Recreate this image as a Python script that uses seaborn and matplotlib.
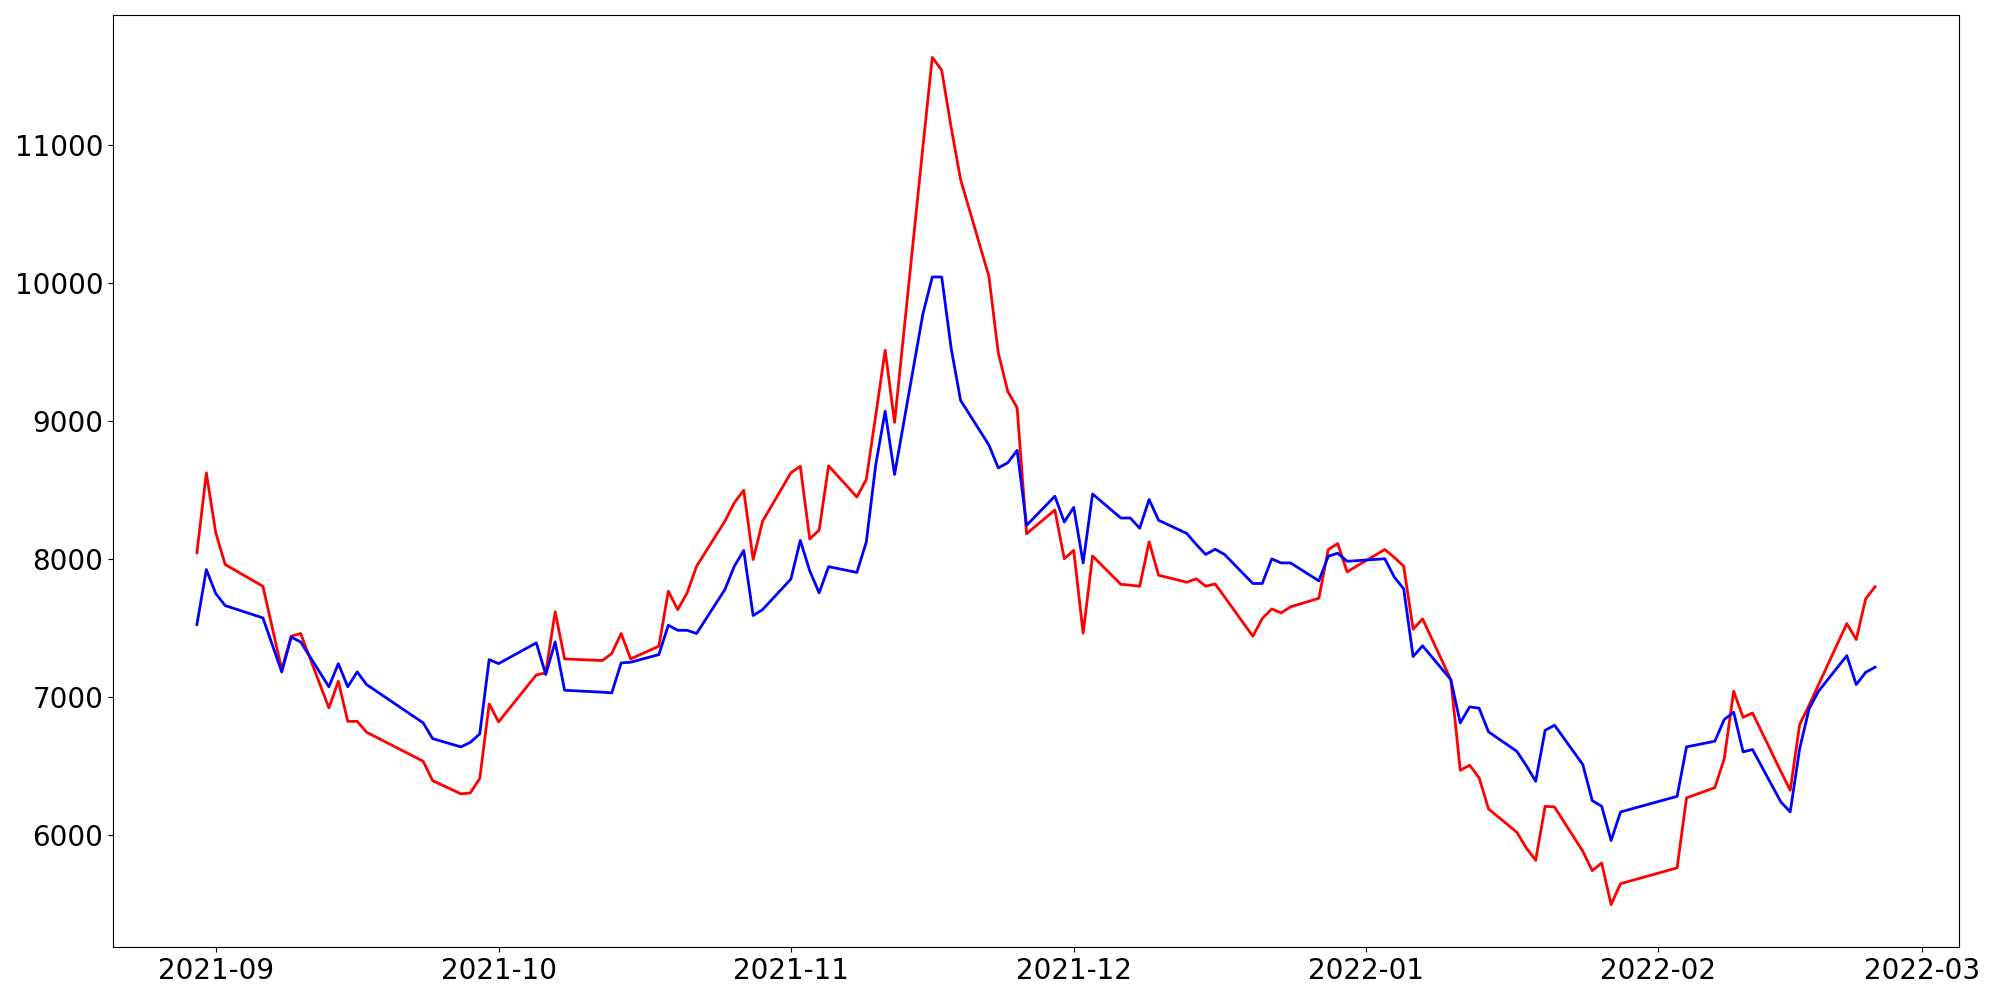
import matplotlib
matplotlib.use("Agg")
import matplotlib.pyplot as plt
import seaborn as sns
import pandas as pd

dates = [
    "2021-08-30", "2021-08-31", "2021-09-01", "2021-09-02", "2021-09-06", "2021-09-08",
    "2021-09-09", "2021-09-10", "2021-09-13", "2021-09-14", "2021-09-15", "2021-09-16",
    "2021-09-17", "2021-09-23", "2021-09-24", "2021-09-27", "2021-09-28", "2021-09-29",
    "2021-09-30", "2021-10-01", "2021-10-05", "2021-10-06", "2021-10-07", "2021-10-08",
    "2021-10-12", "2021-10-13", "2021-10-14", "2021-10-15", "2021-10-18", "2021-10-19",
    "2021-10-20", "2021-10-21", "2021-10-22", "2021-10-25", "2021-10-26", "2021-10-27",
    "2021-10-28", "2021-10-29", "2021-11-01", "2021-11-02", "2021-11-03", "2021-11-04",
    "2021-11-05", "2021-11-08", "2021-11-09", "2021-11-10", "2021-11-11", "2021-11-12",
    "2021-11-15", "2021-11-16", "2021-11-17", "2021-11-18", "2021-11-19", "2021-11-22",
    "2021-11-23", "2021-11-24", "2021-11-25", "2021-11-26", "2021-11-29", "2021-11-30",
    "2021-12-01", "2021-12-02", "2021-12-03", "2021-12-06", "2021-12-07", "2021-12-08",
    "2021-12-09", "2021-12-10", "2021-12-13", "2021-12-14", "2021-12-15", "2021-12-16",
    "2021-12-17", "2021-12-20", "2021-12-21", "2021-12-22", "2021-12-23", "2021-12-24",
    "2021-12-27", "2021-12-28", "2021-12-29", "2021-12-30", "2021-12-31", "2022-01-03",
    "2022-01-04", "2022-01-05", "2022-01-06", "2022-01-07", "2022-01-10", "2022-01-11",
    "2022-01-12", "2022-01-13", "2022-01-14", "2022-01-17", "2022-01-18", "2022-01-19",
    "2022-01-20", "2022-01-21", "2022-01-24", "2022-01-25", "2022-01-26", "2022-01-27",
    "2022-01-28", "2022-02-03", "2022-02-04", "2022-02-07", "2022-02-08", "2022-02-09",
    "2022-02-10", "2022-02-11", "2022-02-14", "2022-02-15", "2022-02-16", "2022-02-17",
    "2022-02-18", "2022-02-21", "2022-02-22", "2022-02-23", "2022-02-24",
]

red_values = [
    8045, 8624, 8190, 7960, 7803, 7200,
    7441, 7461, 6922, 7115, 6825, 6825,
    6746, 6536, 6396, 6300, 6307, 6411,
    6951, 6821, 7161, 7176, 7618, 7277,
    7265, 7316, 7461, 7277, 7369, 7767,
    7634, 7755, 7948, 8274, 8407, 8498,
    7996, 8274, 8624, 8672, 8146, 8209,
    8675, 8449, 8576, 9040, 9511, 8989,
    10980, 11632, 11539, 11125, 10748, 10048,
    9493, 9215, 9095, 8183, 8355, 8002,
    8063, 7463, 8022, 7817, 7811, 7803,
    8125, 7883, 7832, 7857, 7803, 7820,
    7726, 7441, 7569, 7639, 7610, 7654,
    7716, 8069, 8112, 7907, 7948, 8069,
    8012, 7948, 7492, 7567, 7127, 6471,
    6507, 6416, 6191, 6022, 5909, 5819,
    6210, 6205, 5884, 5744, 5800, 5498,
    5650, 5764, 6271, 6345, 6553, 7043,
    6854, 6886, 6463, 6326, 6802, 6941,
    7090, 7533, 7417, 7712, 7799,
]

blue_values = [
    7526, 7924, 7750, 7663, 7574, 7183,
    7435, 7400, 7075, 7243, 7075, 7183,
    7091, 6814, 6700, 6640, 6673, 6734,
    7272, 7243, 7393, 7164, 7400, 7050,
    7036, 7031, 7248, 7253, 7308, 7521,
    7484, 7484, 7461, 7779, 7948, 8062,
    7591, 7634, 7855, 8135, 7915, 7755,
    7945, 7903, 8123, 8681, 9070, 8612,
    9773, 10042, 10042, 9526, 9149, 8826,
    8660, 8697, 8787, 8244, 8455, 8268,
    8374, 7972, 8471, 8297, 8297, 8223,
    8431, 8281, 8185, 8105, 8033, 8071,
    8033, 7823, 7823, 8001, 7972, 7972,
    7842, 8020, 8042, 7984, 7988, 8002,
    7870, 7784, 7294, 7372, 7127, 6814,
    6930, 6920, 6749, 6608, 6505, 6391,
    6760, 6797, 6512, 6251, 6210, 5962,
    6169, 6282, 6640, 6681, 6838, 6891,
    6604, 6621, 6242, 6169, 6628, 6915,
    7043, 7301, 7091, 7180, 7217,
]

df = pd.DataFrame({
    "date": pd.to_datetime(dates),
    "red": red_values,
    "blue": blue_values,
})

fig, ax = plt.subplots(figsize=(20, 10), dpi=100)
fig.subplots_adjust(left=0.0565, right=0.9795, bottom=0.053, top=0.985)

sns.lineplot(x="date", y="red", data=df, color="red", linewidth=2, ax=ax)
sns.lineplot(x="date", y="blue", data=df, color="blue", linewidth=2, ax=ax)

ax.set_xlabel("")
ax.set_ylabel("")
ax.tick_params(labelsize=20)

plt.savefig("out.png")
